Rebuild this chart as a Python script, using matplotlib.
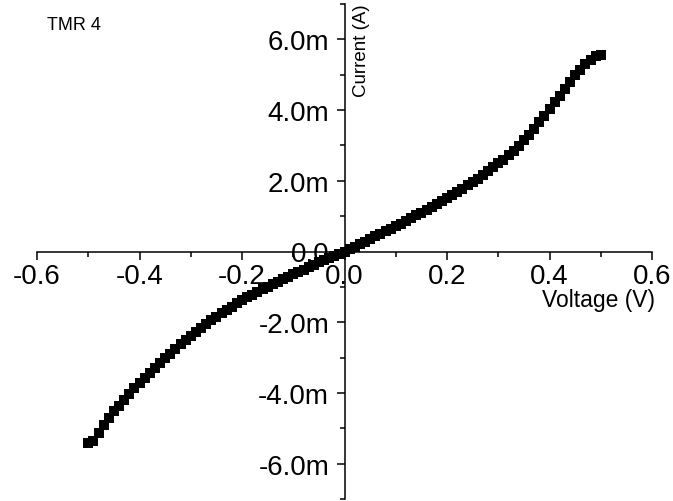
import matplotlib
matplotlib.use("Agg")
import matplotlib.pyplot as plt
from matplotlib.ticker import MultipleLocator, FuncFormatter

plt.rcParams['font.family'] = ['Liberation Sans', 'DejaVu Sans']
plt.rcParams['axes.unicode_minus'] = False

# sweep voltage (V)
voltage = [-0.50, -0.49, -0.48, -0.47, -0.46, -0.45, -0.44, -0.43, -0.42, -0.41,
           -0.40, -0.39, -0.38, -0.37, -0.36, -0.35, -0.34, -0.33, -0.32, -0.31,
           -0.30, -0.29, -0.28, -0.27, -0.26, -0.25, -0.24, -0.23, -0.22, -0.21,
           -0.20, -0.19, -0.18, -0.17, -0.16, -0.15, -0.14, -0.13, -0.12, -0.11,
           -0.10, -0.09, -0.08, -0.07, -0.06, -0.05, -0.04, -0.03, -0.02, -0.01,
           0.00, 0.01, 0.02, 0.03, 0.04, 0.05, 0.06, 0.07, 0.08, 0.09,
           0.10, 0.11, 0.12, 0.13, 0.14, 0.15, 0.16, 0.17, 0.18, 0.19,
           0.20, 0.21, 0.22, 0.23, 0.24, 0.25, 0.26, 0.27, 0.28, 0.29,
           0.30, 0.31, 0.32, 0.33, 0.34, 0.35, 0.36, 0.37, 0.38, 0.39,
           0.40, 0.41, 0.42, 0.43, 0.44, 0.45, 0.46, 0.47, 0.48, 0.49, 0.50]

# measured current (mA)
current_ma = [-5.42, -5.36, -5.12, -4.90, -4.70, -4.52, -4.36, -4.20, -4.03, -3.87,
              -3.72, -3.58, -3.44, -3.30, -3.16, -3.02, -2.89, -2.76, -2.63, -2.51,
              -2.39, -2.27, -2.16, -2.05, -1.95, -1.85, -1.75, -1.65, -1.56, -1.47,
              -1.38, -1.30, -1.22, -1.14, -1.06, -0.99, -0.92, -0.85, -0.78, -0.71,
              -0.64, -0.57, -0.51, -0.44, -0.38, -0.31, -0.25, -0.19, -0.12, -0.06,
              0.00, 0.07, 0.14, 0.21, 0.28, 0.36, 0.43, 0.50, 0.57, 0.64,
              0.72, 0.79, 0.87, 0.94, 1.02, 1.10, 1.18, 1.26, 1.34, 1.43,
              1.51, 1.60, 1.69, 1.78, 1.87, 1.96, 2.06, 2.16, 2.27, 2.38,
              2.49, 2.60, 2.72, 2.85, 2.99, 3.14, 3.30, 3.47, 3.65, 3.84,
              4.03, 4.22, 4.41, 4.60, 4.80, 4.98, 5.14, 5.30, 5.43, 5.52, 5.56]

current = [c * 1e-3 for c in current_ma]

W, H = 673, 502
fig = plt.figure(figsize=(W / 100, H / 100), dpi=100)
ax = fig.add_axes([37 / W, 1 - 500 / H, (652 - 37) / W, (500 - 5) / H])

ax.plot(voltage, current, linestyle='none', marker='s', markersize=7.6,
        color='black', markeredgewidth=0)

ax.set_xlim(-0.6, 0.6)
ax.set_ylim(-7e-3, 7e-3)

# axes crossing at the origin
for side in ('top', 'right'):
    ax.spines[side].set_visible(False)
ax.spines['left'].set_position(('data', 0))
ax.spines['bottom'].set_position(('data', 0))
for side in ('left', 'bottom'):
    ax.spines[side].set_linewidth(1.1)

ax.xaxis.set_major_locator(MultipleLocator(0.2))
ax.xaxis.set_minor_locator(MultipleLocator(0.1))
ax.yaxis.set_major_locator(MultipleLocator(2e-3))
ax.yaxis.set_minor_locator(MultipleLocator(1e-3))

ax.xaxis.set_major_formatter(FuncFormatter(lambda v, p: f"{v:.1f}"))
ax.yaxis.set_major_formatter(
    FuncFormatter(lambda v, p: "0.0" if abs(v) < 1e-9 else f"{v * 1e3:.1f}m"))

ax.tick_params(which='major', direction='out', length=6, width=1.1,
               labelsize=20)
ax.tick_params(axis='x', which='major', pad=2)
ax.tick_params(axis='y', which='major', pad=5)
ax.tick_params(which='minor', direction='out', length=3.6, width=1.1)

fig.text(598 / W, 1 - 300 / H, "Voltage (V)", fontsize=16.5,
         ha='center', va='center')
fig.text(361 / W, 1 - 51 / H, "Current (A)", fontsize=13.5,
         rotation=90, ha='center', va='center')
fig.text(47 / W, 1 - 25 / H, "TMR 4", fontsize=13, ha='left', va='center')

fig.savefig("out.png", dpi=100)
